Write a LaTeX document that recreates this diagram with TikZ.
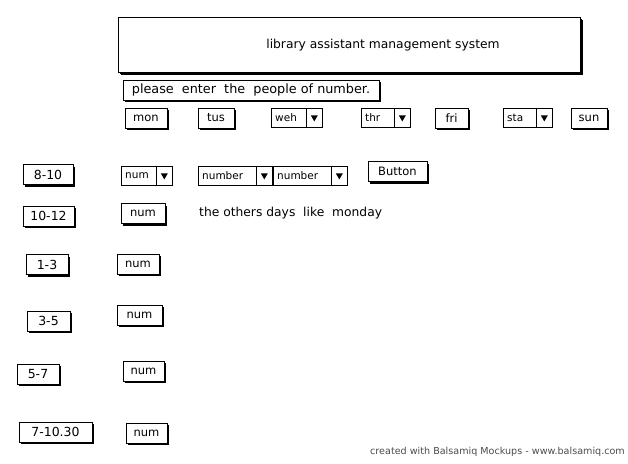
\documentclass[tikz,border=0pt]{standalone}
\usepackage{fontspec}
\setmainfont{DejaVu Sans}
\usetikzlibrary{calc, shadows}

\newcommand{\combobox}[4]{%
  \node[combo, minimum width=#3, anchor=north west] (#1) at (#2) {};
  \draw[thin] ($(#1.north east)+(-17,0)$) coordinate (#1d) -- (#1d |- #1.south);
  \fill ($(#1.east)+(-12,-2.5)$) -- ++(7,0) -- ++(-3.5,6) -- cycle;
  \node[anchor=west, inner sep=4pt, font=\fontsize{10.5}{12}\selectfont] (#1t) at (#1.west) {#4};
}

\begin{document}
\begin{tikzpicture}[x=1pt, y=-1pt,
    btn/.style={draw, line width=1pt, fill=white, minimum height=20, inner sep=0,
      font=\fontsize{11.5}{13}\selectfont,
      drop shadow={shadow xshift=2pt, shadow yshift=-2pt, fill=black, opacity=1}},
    slot/.style={btn, font=\fontsize{12.5}{14}\selectfont},
    combo/.style={draw, line width=0.8pt, fill=white, minimum height=19, inner sep=0},
    lbl/.style={inner sep=0, font=\fontsize{12.3}{14}\selectfont}]
    \fill[white] (0,0) rectangle (628,463);
    \useasboundingbox (0,0) rectangle (628,463);
    \node[btn, minimum width=462, minimum height=55,
      drop shadow={shadow xshift=3pt, shadow yshift=-3pt, fill=black, opacity=1}] (head) at (349,44.5) {};
    \node[lbl] (title) at (383,45) {library assistant management system};
    \node[btn, minimum width=256, font=\fontsize{12.8}{14}\selectfont] (ask) at (251,90)
      {please\ \ enter\ \ the\ \ people of number.};
    \node[btn, minimum width=42] (mon) at (146,118) {mon};
    \node[btn, minimum width=36] (tus) at (216,118) {tus};
    \combobox{weh}{271,108}{51}{weh}
    \combobox{thr}{361,108}{49}{thr}
    \node[btn, minimum width=33] (fri) at (451.5,118) {fri};
    \combobox{sta}{503,108}{49}{sta}
    \node[btn, minimum width=36] (sun) at (589,118) {sun};
    \node[slot, minimum width=50] (t810) at (48,174.5) {8-10};
    \combobox{n810}{121,166}{51}{num}
    \combobox{from}{198,166}{74}{number}
    \combobox{to}{273,166}{74}{number}
    \node[btn, minimum width=59] (ok) at (397.5,171.5) {Button};
    \node[slot, minimum width=51] (t1012) at (48.5,216) {10-12};
    \node[btn, minimum width=44] (n1012) at (143,213.5) {num};
    \node[lbl, anchor=west] (note) at (199,213) {the others days\ \ like\ \ monday};
    \node[slot, minimum width=42] (t13) at (47,264.5) {1-3};
    \node[btn, minimum width=42] (n13) at (138,264) {num};
    \node[slot, minimum width=43] (t35) at (48.5,321) {3-5};
    \node[btn, minimum width=45] (n35) at (139.5,315) {num};
    \node[slot, minimum width=42] (t57) at (38,374) {5-7};
    \node[btn, minimum width=41] (n57) at (143.5,371) {num};
    \node[slot, minimum width=73] (t710) at (55.5,432) {7-10.30};
    \node[btn, minimum width=41] (n710) at (146.5,433) {num};
    \node[inner sep=0, anchor=east, text=black!70, font=\fontsize{9.6}{11}\selectfont] (credit) at (625,452)
      {created with Balsamiq Mockups - www.balsamiq.com};
\end{tikzpicture}
\end{document}
